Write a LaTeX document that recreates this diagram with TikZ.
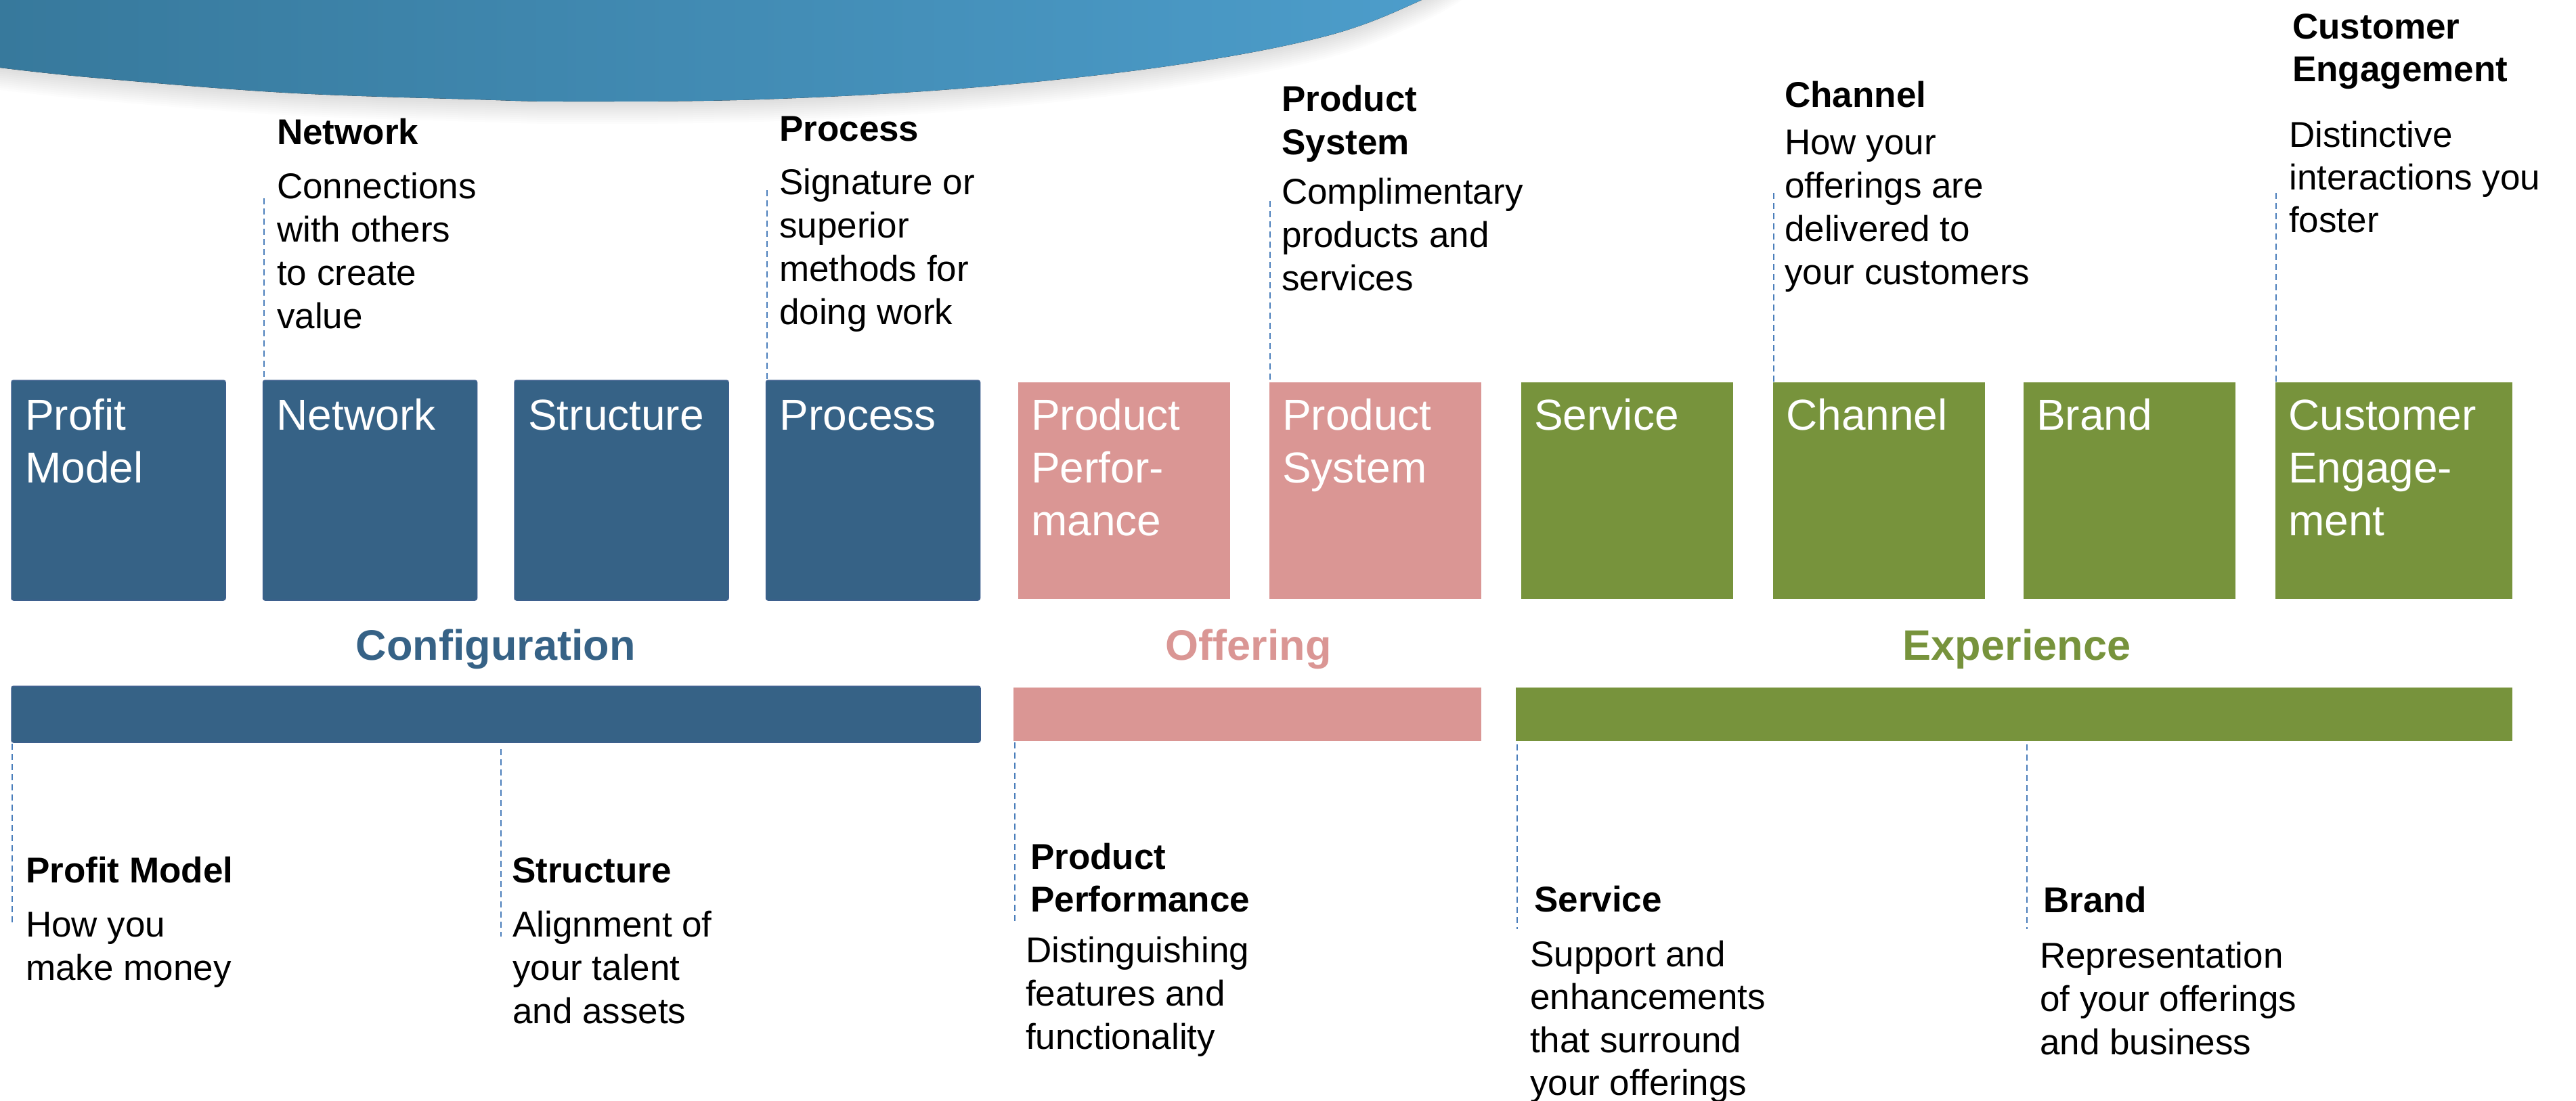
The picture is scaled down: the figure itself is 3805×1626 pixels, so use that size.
\documentclass[tikz,border=0pt]{standalone}
\usepackage{fontspec}
\setmainfont{Liberation Sans}
\definecolor{cblue}{RGB}{54,98,134}
\definecolor{cbluebd}{RGB}{62,96,142}
\definecolor{cpink}{RGB}{218,150,148}
\definecolor{cgreen}{RGB}{119,147,60}
\definecolor{cdash}{RGB}{74,126,187}
\definecolor{swl}{RGB}{55,121,156}
\definecolor{swr}{RGB}{77,158,204}
\newcommand\txtlines[6]{%
  \foreach \t [count=\i from 0] in {#6}{\node[#2] (#1-\i) at (#3,{#4+\i*#5}) {\t};}}
\begin{document}
\begin{tikzpicture}[x=1pt,y=-1pt,
  box/.style={rectangle, inner sep=0pt, outer sep=0pt, anchor=north west},
  bluebox/.style={box, fill=cblue, draw=cbluebd, line width=1.5pt, rounded corners=3pt, minimum width=316pt, minimum height=325pt},
  pinkbox/.style={box, fill=cpink, minimum width=313pt, minimum height=320pt},
  greenbox/.style={box, fill=cgreen, minimum width=313pt, minimum height=320pt},
  boxtxt/.style={text=white, font=\fontsize{64}{77}\selectfont, anchor=base west, inner sep=0pt},
  head/.style={text=black, font=\fontsize{53}{64}\selectfont\bfseries, anchor=base west, inner sep=0pt},
  desc/.style={text=black, font=\fontsize{53}{64}\selectfont, anchor=base west, inner sep=0pt},
  grp/.style={font=\fontsize{63}{76}\selectfont\bfseries, anchor=base, inner sep=0pt},
  dline/.style={draw=cdash, line width=2pt, dash pattern=on 9pt off 6pt}]
\useasboundingbox (0,0) rectangle (3805,1626);
\clip (0,0) rectangle (3805,1626);
\fill[white] (0,0) rectangle (3805,1626);
% swoosh shadow
\foreach \d in {3,6,...,33}{
  \begin{scope}[yshift=-\d pt]
    \fill[black, opacity=0.013] (0,-60) -- plot[smooth, tension=0.6] coordinates {(0,100) (140,115) (421,137) (702,147) (842,150) (1122,147) (1430,130) (1730,97) (1960,53) (2100,0) (2170,-40)} -- cycle;
  \end{scope}}
% swoosh
\fill[left color=swl, right color=swr] (0,-60) -- plot[smooth, tension=0.6] coordinates {(0,100) (140,115) (421,137) (702,147) (842,150) (1122,147) (1430,130) (1730,97) (1960,53) (2100,0) (2170,-40)} -- cycle;

% boxes
\node[bluebox] (pm) at (17,562) {};
\node[bluebox] (net) at (388.5,562) {};
\node[bluebox] (str) at (760,562) {};
\node[bluebox] (pro) at (1131.5,562) {};
\node[pinkbox] (pp) at (1504,565) {};
\node[pinkbox] (ps) at (1875,565) {};
\node[greenbox] (srv) at (2247,565) {};
\node[greenbox] (chn) at (2619,565) {};
\node[greenbox] (brd) at (2989,565) {};
\node[greenbox, minimum width=350pt] (ce) at (3361,565) {};

\txtlines{pmT}{boxtxt}{37}{635}{78}{Profit,Model}
\txtlines{netT}{boxtxt}{408.5}{635}{78}{Network}
\txtlines{strT}{boxtxt}{780}{635}{78}{Structure}
\txtlines{proT}{boxtxt}{1151.5}{635}{78}{Process}
\txtlines{ppT}{boxtxt}{1523}{635}{78}{Product,Perfor-,mance}
\txtlines{psT}{boxtxt}{1894}{635}{78}{Product,System}
\txtlines{srvT}{boxtxt}{2266}{635}{78}{Service}
\txtlines{chnT}{boxtxt}{2638}{635}{78}{Channel}
\txtlines{brdT}{boxtxt}{3008}{635}{78}{Brand}
\txtlines{ceT}{boxtxt}{3380}{635}{78}{Customer,Engage-,ment}

% group labels
\node[grp, text=cblue] (cfgL) at (732,975) {Configuration};
\node[grp, text=cpink] (offL) at (1844,975) {Offering};
\node[grp, text=cgreen] (expL) at (2979,975) {Experience};

% bars
\node[box, fill=cblue, draw=cbluebd, line width=1.5pt, rounded corners=3pt, minimum width=1431pt, minimum height=83pt] (cfg) at (17,1014) {};
\node[box, fill=cpink, minimum width=691pt, minimum height=79pt] (off) at (1497,1016) {};
\node[box, fill=cgreen, minimum width=1472pt, minimum height=79pt] (exp) at (2239,1016) {};

% top descriptions
\txtlines{netH}{head}{409}{213}{64}{Network}
\txtlines{netD}{desc}{409}{293}{64.3}{Connections,with others,to create,value}
\txtlines{proH}{head}{1151}{208}{64}{Process}
\txtlines{proD}{desc}{1151}{287}{64.3}{Signature or,superior,methods for,doing work}
\txtlines{psH}{head}{1893}{164}{64}{Product,System}
\txtlines{psD}{desc}{1893}{301}{64}{Complimentary,products and,services}
\txtlines{chnH}{head}{2636}{158}{64}{Channel}
\txtlines{chnD}{desc}{2636}{228}{64}{How your,offerings are,delivered to,your customers}
\txtlines{ceH}{head}{3386}{57}{63}{Customer,Engagement}
\txtlines{ceD}{desc}{3381}{217}{63}{Distinctive,interactions you,foster}

% bottom descriptions
\txtlines{pmH}{head}{38}{1304}{64}{Profit Model}
\txtlines{pmD}{desc}{38}{1384}{64}{How you,make money}
\txtlines{strH}{head}{756}{1304}{64}{Structure}
\txtlines{strD}{desc}{757}{1384}{64}{Alignment of,your talent,and assets}
\txtlines{ppH}{head}{1522}{1284}{63}{Product,Performance}
\txtlines{ppD}{desc}{1515}{1422}{64}{Distinguishing,features and,functionality}
\txtlines{srvH}{head}{2266}{1347}{64}{Service}
\txtlines{srvD}{desc}{2260}{1428}{63.5}{Support and,enhancements,that surround,your offerings}
\txtlines{brdH}{head}{3018}{1348}{64}{Brand}
\txtlines{brdD}{desc}{3013}{1430}{64}{Representation,of your offerings,and business}

% dashed leaders (top)
\coordinate (netA) at (390,293);
\coordinate (proA) at (1133,281);
\coordinate (psA) at (1876,297);
\coordinate (chnA) at (2620,285);
\coordinate (ceA) at (3362,285);
\draw[dline] (netA) -- (netA |- net.north);
\draw[dline] (proA) -- (proA |- pro.north);
\draw[dline] (psA) -- (psA |- ps.north);
\draw[dline] (chnA) -- (chnA |- chn.north);
\draw[dline] (ceA) -- (ceA |- ce.north);

% dashed leaders (bottom)
\coordinate (pmB1) at (18,1099);   \coordinate (pmB2) at (18,1366);
\coordinate (strB1) at (740,1107); \coordinate (strB2) at (740,1384);
\coordinate (ppB1) at (1499,1097); \coordinate (ppB2) at (1499,1366);
\coordinate (srvB1) at (2241,1100); \coordinate (srvB2) at (2241,1373);
\coordinate (brdB1) at (2994,1100); \coordinate (brdB2) at (2994,1373);
\draw[dline] (pmB1) -- (pmB2);
\draw[dline] (strB1) -- (strB2);
\draw[dline] (ppB1) -- (ppB2);
\draw[dline] (srvB1) -- (srvB2);
\draw[dline] (brdB1) -- (brdB2);
\end{tikzpicture}
\end{document}
